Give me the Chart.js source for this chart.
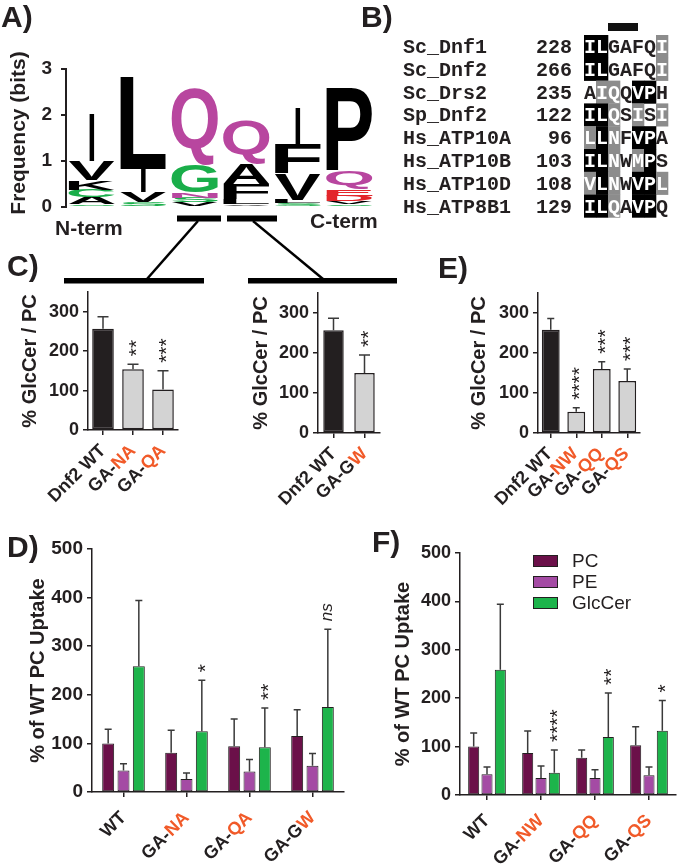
<!DOCTYPE html>
<html>
<head>
<meta charset="utf-8">
<script src="https://cdn.jsdelivr.net/npm/chart.js@4.4.1/dist/chart.umd.min.js"></script>
<style>
  html, body { margin: 0; padding: 0; background: #fff; }
  #page { position: relative; width: 693px; height: 868px; overflow: hidden; background: #fff; }
  #page canvas { position: absolute; }
  #overlay { position: absolute; left: 0; top: 0; pointer-events: none; }
</style>
</head>
<body>
<div id="page">
  <svg id="overlay" width="693" height="868"></svg>
</div>
<script>
// ---- A) sequence logo (letters listed bottom to top, heights in bits)
const logoPositions = ['1', '2', '3', '4', '5', '6'];
const logoLetters = [
  ['S', 'A', 'C', 'K', 'V', 'I'],
  ['S', 'V', 'I', 'L'],
  ['V', 'S', 'N', 'G', 'Q'],
  ['V', 'L', 'F', 'A', 'Q'],
  ['S', 'L', 'V', 'F', 'I'],
  ['S', 'V', 'D', 'E', 'Q', 'P']
];
const logoHeights = [
  [0.06, 0.16, 0.16, 0.2, 0.42, 1.05],
  [0.1, 0.22, 0.5, 2.0],
  [0.1, 0.1, 0.12, 0.6, 1.68],
  [0.06, 0.1, 0.34, 0.45, 0.95],
  [0.08, 0.08, 0.56, 0.64, 0.78],
  [0.06, 0.06, 0.13, 0.15, 0.38, 1.8]
];
const logoTicks = [0, 1, 2, 3];

// ---- B) alignment
const alignNames = ['Sc_Dnf1', 'Sc_Dnf2', 'Sc_Drs2', 'Sp_Dnf2', 'Hs_ATP10A', 'Hs_ATP10B', 'Hs_ATP10D', 'Hs_ATP8B1'];
const alignStarts = [228, 266, 235, 122, 96, 103, 108, 129];
const alignSeqs = ['ILGAFQI', 'ILGAFQI', 'AIQQVPH', 'ILQSISI', 'LLNFVPA', 'ILNWMPS', 'VLNWVPL', 'ILQAVPQ'];
const alignShade = ['bbwwwwg', 'bbwwwwg', 'wggwbbw', 'bbgwgwg', 'gbgwbbw', 'bbgwgbw', 'gbgwbbg', 'bbgwbbw'];

// ---- C) GlcCer / PC
const cLeftCats = ['Dnf2 WT', 'GA-NA', 'GA-QA'];
const cLeftHighlight = ['', 'NA', 'QA'];
const cLeftMean = [257, 154, 103];
const cLeftErr = [287, 167, 150];
const cLeftSig = ['', '**', '***'];

const cRightCats = ['Dnf2 WT', 'GA-GW'];
const cRightHighlight = ['', 'W'];
const cRightMean = [257, 150];
const cRightErr = [287, 195];
const cRightSig = ['', '**'];

// ---- E)
const eCats = ['Dnf2 WT', 'GA-NW', 'GA-QQ', 'GA-QS'];
const eHighlight = ['', 'NW', 'QQ', 'QS'];
const eMean = [258, 53, 160, 130];
const eErr = [286, 63, 178, 160];
const eSig = ['', '****', '***', '***'];

const glcTicks = [0, 100, 200, 300];

// ---- D) % of WT PC uptake
const dCats = ['WT', 'GA-NA', 'GA-QA', 'GA-GW'];
const dHighlight = ['', 'NA', 'QA', 'W'];
const dPC = [100, 81, 94, 115];
const dPCErr = [129, 127, 150, 169];
const dPE = [44, 27, 42, 54];
const dPEErr = [58, 39, 67, 79];
const dGlc = [259, 125, 92, 175];
const dGlcErr = [394, 230, 173, 335];
const dSig = ['', '*', '**', 'ns'];

// ---- F)
const fCats = ['WT', 'GA-NW', 'GA-QQ', 'GA-QS'];
const fHighlight = ['', 'NW', 'QQ', 'QS'];
const fPC = [100, 87, 77, 103];
const fPCErr = [128, 132, 93, 141];
const fPE = [43, 35, 35, 41];
const fPEErr = [58, 60, 52, 58];
const fGlc = [259, 46, 120, 133];
const fGlcErr = [394, 93, 211, 195];
const fSig = ['', '****', '**', '*'];

const uptakeTicks = [0, 100, 200, 300, 400, 500];
const lipidNames = ['PC', 'PE', 'GlcCer'];

const FONT = '"Liberation Sans", Arial, Helvetica, sans-serif';
const MONO = '"Liberation Mono", "Courier New", monospace';
const AXIS = '#231f20';
const ORANGE = '#f15a29';
const PC_COL = '#6b1049';
const PE_COL = '#a44ba4';
const GLC_COL = '#1db44b';

Chart.defaults.font.family = FONT;
Chart.defaults.color = AXIS;

const page = document.getElementById('page');
const overlay = document.getElementById('overlay');

function addCanvas(left, top, w, h) {
  const c = document.createElement('canvas');
  c.width = w; c.height = h;
  c.style.left = left + 'px'; c.style.top = top + 'px';
  c.style.width = w + 'px'; c.style.height = h + 'px';
  page.insertBefore(c, overlay);
  return c;
}

function svgEl(tag, attrs, text) {
  const e = document.createElementNS('http://www.w3.org/2000/svg', tag);
  for (const k in attrs) e.setAttribute(k, attrs[k]);
  if (text != null) e.textContent = text;
  overlay.appendChild(e);
  return e;
}

function letterColor(l) {
  if ('GSTYC'.includes(l)) return '#1aae4a';
  if ('QN'.includes(l)) return '#b8469f';
  if ('DE'.includes(l)) return '#e3262b';
  return '#000000';
}

// ---- plugins
const yTitlePlugin = {
  id: 'yTitle',
  afterDraw(chart, args, opts) {
    if (!opts || !opts.text) return;
    const ctx = chart.ctx, a = chart.chartArea;
    ctx.save();
    ctx.translate(opts.x, (a.top + a.bottom) / 2 + (opts.dy || 0));
    ctx.rotate(-Math.PI / 2);
    ctx.font = 'bold ' + opts.size + 'px ' + FONT;
    ctx.fillStyle = AXIS;
    ctx.textAlign = 'center';
    ctx.textBaseline = 'middle';
    ctx.fillText(opts.text, 0, 0);
    ctx.restore();
  }
};

const xLabelsPlugin = {
  id: 'xLabels',
  afterDraw(chart, args, opts) {
    if (!opts || !opts.labels) return;
    const ctx = chart.ctx, xs = chart.scales.x, a = chart.chartArea;
    opts.labels.forEach((lab, i) => {
      const hl = opts.highlight[i] || '';
      const pre = lab.slice(0, lab.length - hl.length);
      ctx.save();
      ctx.font = 'bold ' + opts.size + 'px ' + FONT;
      ctx.translate(xs.getPixelForValue(i) + opts.dx, a.bottom + opts.dy);
      ctx.rotate(-Math.PI / 4);
      ctx.textAlign = 'right';
      ctx.textBaseline = 'middle';
      ctx.fillStyle = ORANGE;
      ctx.fillText(hl, 0, 0);
      ctx.fillStyle = AXIS;
      ctx.fillText(pre, -ctx.measureText(hl).width, 0);
      ctx.restore();
    });
  }
};

const errorBarsPlugin = {
  id: 'errorBars',
  afterDatasetsDraw(chart, args, opts) {
    const ctx = chart.ctx, ys = chart.scales.y;
    ctx.save();
    ctx.strokeStyle = '#3a3a3a';
    ctx.lineWidth = opts.width || 1.5;
    chart.data.datasets.forEach((ds, di) => {
      if (!ds.errors) return;
      chart.getDatasetMeta(di).data.forEach((bar, j) => {
        const yt = ys.getPixelForValue(ds.errors[j]);
        ctx.beginPath();
        ctx.moveTo(bar.x, bar.y);
        ctx.lineTo(bar.x, yt);
        ctx.moveTo(bar.x - opts.cap / 2, yt);
        ctx.lineTo(bar.x + opts.cap / 2, yt);
        ctx.stroke();
      });
    });
    ctx.restore();
  }
};

const sigPlugin = {
  id: 'sigMarks',
  afterDraw(chart, args, opts) {
    if (!opts || !opts.marks) return;
    const ctx = chart.ctx, ys = chart.scales.y;
    const ds = chart.data.datasets[opts.dataset];
    const meta = chart.getDatasetMeta(opts.dataset);
    opts.marks.forEach((mark, j) => {
      if (!mark) return;
      const bar = meta.data[j];
      const yt = ys.getPixelForValue(ds.errors[j]) - opts.gap;
      ctx.save();
      ctx.font = mark === 'ns' ? 'italic 17px ' + FONT : opts.size + 'px ' + FONT;
      const m = ctx.measureText(mark);
      const off = (m.actualBoundingBoxAscent - m.actualBoundingBoxDescent) / 2;
      ctx.translate(bar.x + off, yt);
      ctx.rotate(-Math.PI / 2);
      ctx.fillStyle = AXIS;
      ctx.textAlign = 'left';
      ctx.textBaseline = 'alphabetic';
      ctx.fillText(mark, 0, 0);
      ctx.restore();
    });
  }
};

const swatchPlugin = {
  id: 'swatches',
  afterDraw(chart, args, opts) {
    if (!opts || !opts.show) return;
    const ctx = chart.ctx;
    chart.data.datasets.forEach((ds, i) => {
      const cy = opts.y + i * opts.rowH;
      ctx.fillStyle = ds.backgroundColor;
      ctx.fillRect(opts.x, cy - opts.boxH / 2, opts.boxW, opts.boxH);
      ctx.strokeStyle = AXIS;
      ctx.lineWidth = 1;
      ctx.strokeRect(opts.x + 0.5, cy - opts.boxH / 2 + 0.5, opts.boxW - 1, opts.boxH - 1);
      ctx.fillStyle = AXIS;
      ctx.font = opts.size + 'px ' + FONT;
      ctx.textAlign = 'left';
      ctx.textBaseline = 'middle';
      ctx.fillText(ds.label, opts.textX, cy + 1);
    });
  }
};

const logoPlugin = {
  id: 'logoLetters',
  afterDatasetsDraw(chart) {
    const ctx = chart.ctx;
    chart.data.datasets.forEach((ds, di) => {
      chart.getDatasetMeta(di).data.forEach((bar, j) => {
        const letter = ds.letters[j];
        if (!letter || !ds.data[j]) return;
        const top = Math.min(bar.y, bar.base);
        const h = Math.abs(bar.base - bar.y);
        let w = bar.width;
        if (letter === 'I') w = 5;
        const left = bar.x - w / 2;
        ctx.save();
        ctx.font = 'bold 100px ' + FONT;
        const m = ctx.measureText(letter);
        const gw = m.actualBoundingBoxLeft + m.actualBoundingBoxRight;
        const gh = m.actualBoundingBoxAscent + m.actualBoundingBoxDescent;
        ctx.translate(left, top);
        ctx.scale(w / gw, h / gh);
        ctx.fillStyle = letterColor(letter);
        ctx.textAlign = 'left';
        ctx.textBaseline = 'alphabetic';
        ctx.fillText(letter, m.actualBoundingBoxLeft, m.actualBoundingBoxAscent);
        ctx.restore();
      });
    });
  }
};

function yScale(max, ticks, yW, lw, size, pad) {
  return {
    min: 0, max: max,
    afterBuildTicks: s => { s.ticks = ticks.map(v => ({ value: v })); },
    afterFit: s => { s.width = yW; },
    grid: { drawOnChartArea: false, drawTicks: true, tickLength: 5, color: AXIS, lineWidth: lw },
    border: { color: AXIS, width: lw },
    ticks: { padding: pad, color: AXIS, font: { size: size, weight: 'bold' } }
  };
}

function makeBars(canvas, p) {
  return new Chart(canvas, {
    type: 'bar',
    data: { labels: p.labels, datasets: p.datasets },
    options: {
      responsive: false, animation: false, devicePixelRatio: 1,
      layout: { autoPadding: false, padding: p.pad },
      datasets: { bar: { categoryPercentage: p.catPct, barPercentage: p.barPct, borderSkipped: false } },
      plugins: {
        legend: { display: false },
        tooltip: { enabled: false },
        yTitle: p.title,
        xLabels: p.xLabels,
        errorBars: { cap: p.cap, width: 1.5 },
        sigMarks: p.sig,
        swatches: p.legend || { show: false }
      },
      scales: {
        x: {
          afterFit: s => { s.height = p.xH; },
          ticks: { display: false },
          grid: { offset: false, drawOnChartArea: false, drawTicks: true, tickLength: 5, color: AXIS, lineWidth: p.lw },
          border: { color: AXIS, width: p.lw }
        },
        y: yScale(p.max, p.ticks, p.yW, p.lw, p.tickSize, 4)
      }
    },
    plugins: [yTitlePlugin, xLabelsPlugin, errorBarsPlugin, sigPlugin, swatchPlugin]
  });
}

// ---- A) logo chart
const layerCount = Math.max(...logoLetters.map(l => l.length));
const logoDatasets = [];
for (let k = 0; k < layerCount; k++) {
  logoDatasets.push({
    data: logoHeights.map(h => h[k] || 0),
    letters: logoLetters.map(l => l[k] || ''),
    backgroundColor: 'rgba(0,0,0,0)',
    borderWidth: 0
  });
}
new Chart(addCanvas(0, 40, 390, 200), {
  type: 'bar',
  data: { labels: logoPositions, datasets: logoDatasets },
  options: {
    responsive: false, animation: false, devicePixelRatio: 1,
    layout: { autoPadding: false, padding: { left: 0, top: 29, right: 15, bottom: 33 } },
    datasets: { bar: { categoryPercentage: 1, barPercentage: 0.9 } },
    plugins: {
      legend: { display: false }, tooltip: { enabled: false },
      yTitle: { text: 'Frequency (bits)', x: 19, size: 21, dy: -5 }
    },
    scales: {
      x: { stacked: true, display: false },
      y: Object.assign(yScale(3, logoTicks, 66, 2, 19, 9), { stacked: true })
    }
  },
  plugins: [yTitlePlugin, logoPlugin]
});

// ---- C) left
makeBars(addCanvas(0, 270, 185, 240), {
  labels: cLeftCats,
  datasets: [{ data: cLeftMean, errors: cLeftErr, backgroundColor: ['#231f20', '#d3d3d3', '#d3d3d3'], borderColor: AXIS, borderWidth: 1.5 }],
  pad: { left: 0, top: 22, right: 7, bottom: 10 }, yW: 88, xH: 70,
  catPct: 1, barPct: 0.72, max: 350, ticks: glcTicks, lw: 1.5, tickSize: 18, cap: 11,
  title: { text: '% GlcCer / PC', x: 30, size: 20 },
  xLabels: { labels: cLeftCats, highlight: cLeftHighlight, size: 18, dx: 0, dy: 18 },
  sig: { dataset: 0, marks: cLeftSig, gap: 8, size: 21 }
});

// ---- C) right
makeBars(addCanvas(230, 270, 160, 240), {
  labels: cRightCats,
  datasets: [{ data: cRightMean, errors: cRightErr, backgroundColor: ['#231f20', '#d3d3d3'], borderColor: AXIS, borderWidth: 1.5 }],
  pad: { left: 0, top: 23, right: 10, bottom: 10 }, yW: 88, xH: 67,
  catPct: 1, barPct: 0.66, max: 350, ticks: glcTicks, lw: 1.5, tickSize: 18, cap: 11,
  title: { text: '% GlcCer / PC', x: 31, size: 20 },
  xLabels: { labels: cRightCats, highlight: cRightHighlight, size: 18, dx: 0, dy: 18 },
  sig: { dataset: 0, marks: cRightSig, gap: 8, size: 21 }
});

// ---- E)
makeBars(addCanvas(450, 270, 243, 240), {
  labels: eCats,
  datasets: [{ data: eMean, errors: eErr, backgroundColor: ['#231f20', '#d3d3d3', '#d3d3d3', '#d3d3d3'], borderColor: AXIS, borderWidth: 1.5 }],
  pad: { left: 0, top: 23, right: 53, bottom: 10 }, yW: 88, xH: 67,
  catPct: 1, barPct: 0.7, max: 350, ticks: glcTicks, lw: 1.5, tickSize: 18, cap: 7,
  title: { text: '% GlcCer / PC', x: 29, size: 20 },
  xLabels: { labels: eCats, highlight: eHighlight, size: 18, dx: -1, dy: 18 },
  sig: { dataset: 0, marks: eSig, gap: 8, size: 21 }
});

function uptakeSets(pc, pcErr, pe, peErr, glc, glcErr) {
  return [
    { label: lipidNames[0], data: pc, errors: pcErr, backgroundColor: PC_COL, borderColor: AXIS, borderWidth: 1 },
    { label: lipidNames[1], data: pe, errors: peErr, backgroundColor: PE_COL, borderColor: AXIS, borderWidth: 1 },
    { label: lipidNames[2], data: glc, errors: glcErr, backgroundColor: GLC_COL, borderColor: AXIS, borderWidth: 1 }
  ];
}

// ---- D)
makeBars(addCanvas(0, 520, 360, 348), {
  labels: dCats,
  datasets: uptakeSets(dPC, dPCErr, dPE, dPEErr, dGlc, dGlcErr),
  pad: { left: 0, top: 29, right: 16, bottom: 0 }, yW: 92, xH: 76,
  catPct: 0.73, barPct: 0.78, max: 500, ticks: uptakeTicks, lw: 1.5, tickSize: 19, cap: 7,
  title: { text: '% of WT PC Uptake', x: 38, size: 20 },
  xLabels: { labels: dCats, highlight: dHighlight, size: 18, dx: 0, dy: 23 },
  sig: { dataset: 2, marks: dSig, gap: 8, size: 21 }
});

// ---- F)
makeBars(addCanvas(370, 520, 323, 348), {
  labels: fCats,
  datasets: uptakeSets(fPC, fPCErr, fPE, fPEErr, fGlc, fGlcErr),
  pad: { left: 0, top: 33, right: 17, bottom: 0 }, yW: 90, xH: 73,
  catPct: 0.74, barPct: 0.83, max: 500, ticks: uptakeTicks, lw: 1.5, tickSize: 18, cap: 7,
  title: { text: '% of WT PC Uptake', x: 33, size: 20 },
  xLabels: { labels: fCats, highlight: fHighlight, size: 18, dx: 0, dy: 23 },
  sig: { dataset: 2, marks: fSig, gap: 8, size: 21 },
  legend: { show: true, x: 163, y: 41, rowH: 21, boxW: 25, boxH: 12, textX: 202, size: 19 }
});

// ---- overlay: panel letters, logo brackets, alignment
[['A)', 1, 27], ['B)', 361, 27], ['C)', 7, 276], ['E)', 438, 278], ['D)', 7, 557], ['F)', 372, 552]].forEach(([t, x, y]) => {
  svgEl('text', { x: x, y: y, 'font-family': FONT, 'font-size': 30, 'font-weight': 'bold', fill: AXIS }, t);
});
svgEl('text', { x: 55, y: 235, 'font-family': FONT, 'font-size': 21, 'font-weight': 'bold', fill: AXIS }, 'N-term');
svgEl('text', { x: 310, y: 228, 'font-family': FONT, 'font-size': 21, 'font-weight': 'bold', fill: AXIS }, 'C-term');
svgEl('rect', { x: 177, y: 215.5, width: 44, height: 6, fill: '#000' });
svgEl('rect', { x: 227, y: 215.5, width: 50, height: 6, fill: '#000' });
svgEl('rect', { x: 64, y: 278, width: 140, height: 5.5, fill: '#000' });
svgEl('rect', { x: 248, y: 278, width: 149, height: 5.5, fill: '#000' });
svgEl('line', { x1: 198, y1: 221, x2: 147, y2: 279, stroke: '#000', 'stroke-width': 2.5 });
svgEl('line', { x1: 253, y1: 221, x2: 323, y2: 279, stroke: '#000', 'stroke-width': 2.5 });

const rowH = 22.8, cellW = 12, seqX = 584, rowTop = 35;
svgEl('rect', { x: 608, y: 23, width: 30, height: 8, fill: '#111' });
alignNames.forEach((name, i) => {
  const base = rowTop + i * rowH + 18;
  const txt = { 'font-family': MONO, 'font-size': 20, 'font-weight': 'bold', fill: AXIS };
  svgEl('text', Object.assign({ x: 403, y: base }, txt), name);
  svgEl('text', Object.assign({ x: 572, y: base, 'text-anchor': 'end' }, txt), String(alignStarts[i]));
  alignSeqs[i].split('').forEach((ch, j) => {
    const s = alignShade[i][j];
    if (s !== 'w') {
      svgEl('rect', { x: seqX + j * cellW, y: rowTop + i * rowH, width: cellW + 0.3, height: rowH + 0.3, fill: s === 'b' ? '#000' : '#8c8c8c' });
    }
    svgEl('text', Object.assign({}, txt, { x: seqX + j * cellW + cellW / 2, y: base, 'text-anchor': 'middle', fill: s === 'w' ? AXIS : '#fff' }), ch);
  });
});
</script>
</body>
</html>
